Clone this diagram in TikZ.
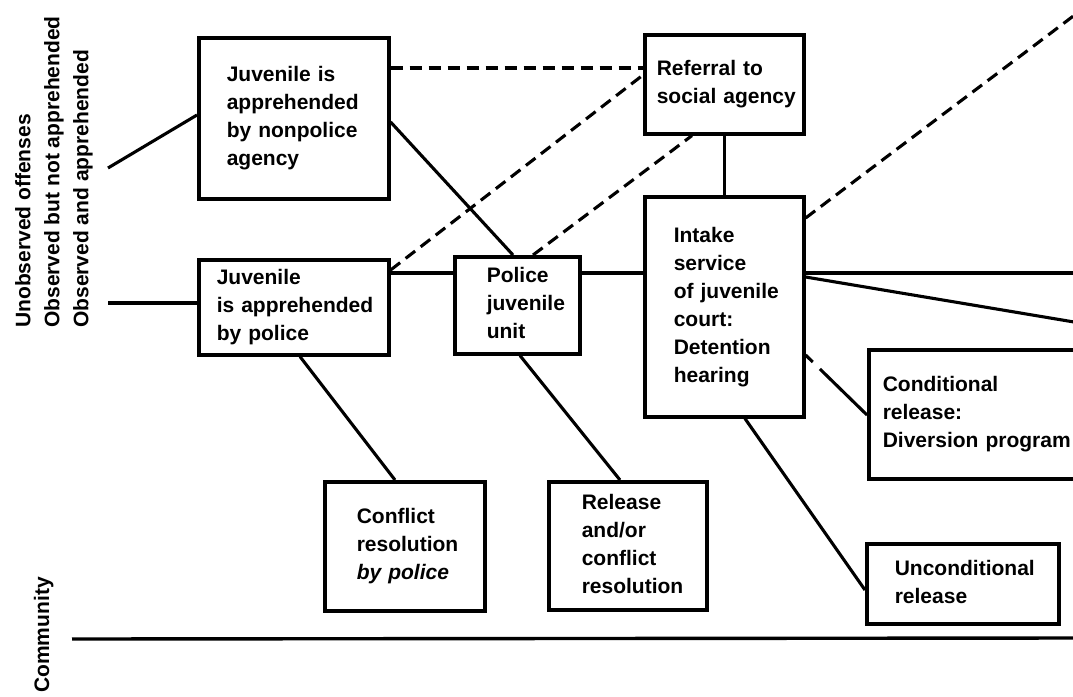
\documentclass[tikz,border=0pt]{standalone}
\usepackage{fontspec}
\setmainfont{Liberation Sans}
\usetikzlibrary{calc}
\newcommand{\bxtext}[2]{\hspace*{#1}\begin{tabular}[c]{@{}l@{}}#2\end{tabular}}
\begin{document}
\begin{tikzpicture}[x=1pt,y=-1pt,
  bx/.style={draw, line width=3.6pt, inner sep=0pt, anchor=north west, align=left,
             font=\bfseries\fontsize{21}{28}\selectfont},
  ln/.style={line width=3.1pt},
  dl/.style={line width=3.1pt, dash pattern=on 12pt off 7pt},
  brk/.style={line width=3.1pt, dash pattern=on 10pt off 10pt on 200pt},
  lbl/.style={font=\bfseries\fontsize{21}{29}\selectfont, rotate=90, inner sep=0pt, align=left}]
\clip (0,0) rectangle (1073,696);
% boxes
\node[bx, text width=190pt, minimum height=161pt] (A) at (197,36)
  {\bxtext{28pt}{Juvenile is\\apprehended\\by nonpolice\\agency}};
\node[bx, text width=190pt, minimum height=95pt] (B) at (197,258)
  {\bxtext{18pt}{Juvenile\\is apprehended\\by police}};
\node[bx, text width=125pt, minimum height=97pt] (C) at (453,255)
  {\bxtext{32pt}{Police\\juvenile\\unit}};
\node[bx, text width=159pt, minimum height=99pt] (D) at (643,33)
  {\bxtext{12pt}{Referral to\\social agency}};
\node[bx, text width=159pt, minimum height=220pt] (E) at (643,195)
  {\bxtext{29pt}{Intake\\service\\of juvenile\\court:\\Detention\\hearing}};
\node[bx, text width=240pt, minimum height=129pt] (F) at (867,348)
  {\bxtext{14pt}{Conditional\\release:\\Diversion program}};
\node[bx, text width=192pt, minimum height=80pt] (G) at (865,542)
  {\bxtext{28pt}{Unconditional\\release}};
\node[bx, text width=160pt, minimum height=129pt] (H) at (323,480)
  {\bxtext{32pt}{Conflict\\resolution\\\textit{by police}}};
\node[bx, text width=158pt, minimum height=128pt] (I) at (547,480)
  {\bxtext{33pt}{Release\\and/or\\conflict\\resolution}};
% side labels
\node[lbl, anchor=south west] (L) at (93,328)
  {Unobserved offenses\\Observed but not apprehended\\Observed and apprehended};
\node[lbl, anchor=base west] (K) at (49,693) {Community};
% free ends
\coordinate (s1) at (108,168);
\coordinate (s2) at (108,303);
\coordinate (r1) at (1080,273);
\coordinate (r2) at (1080,323);
\coordinate (r3) at (1080,11);
\coordinate (c1) at (72,639);
\coordinate (c2) at (1080,638);
% connectors
\draw[ln] (s1) -- ($(A.north west)+(0,79)$);
\draw[ln] (s2) -- ($(B.north west)+(0,45)$);
\draw[dl] ($(A.north east)+(0,32)$) -- ($(D.north west)+(0,35)$);
\draw[ln] ($(A.north east)+(0,86)$) -- ($(C.north west)+(60,0)$);
\draw[dl] ($(B.north east)+(0,12)$) -- ($(D.north west)+(0,42)$);
\draw[dl] ($(C.north west)+(80,0)$) -- ($(D.south west)+(49,0)$);
\draw[ln] (D.south) -- (E.north);
\draw[ln] ($(B.north east)+(0,15)$) -- ($(C.north west)+(0,18)$);
\draw[ln] ($(C.north east)+(0,18)$) -- ($(E.north west)+(0,78)$);
\draw[ln] ($(E.north east)+(0,78)$) -- (r1);
\draw[ln] ($(E.north east)+(0,82)$) -- (r2);
\draw[dl] ($(E.north east)+(0,23)$) -- (r3);
\draw[brk] ($(E.north east)+(0,160)$) -- ($(F.north west)+(0,67)$);
\draw[ln] ($(E.south west)+(102,0)$) -- ($(G.north west)+(0,48)$);
\draw[ln] ($(B.south west)+(103,0)$) -- ($(H.north west)+(72,0)$);
\draw[ln] ($(C.south west)+(67,0)$) -- ($(I.north west)+(73,0)$);
\draw[line width=3.4pt] (c1) -- (c2);
\end{tikzpicture}
\end{document}
